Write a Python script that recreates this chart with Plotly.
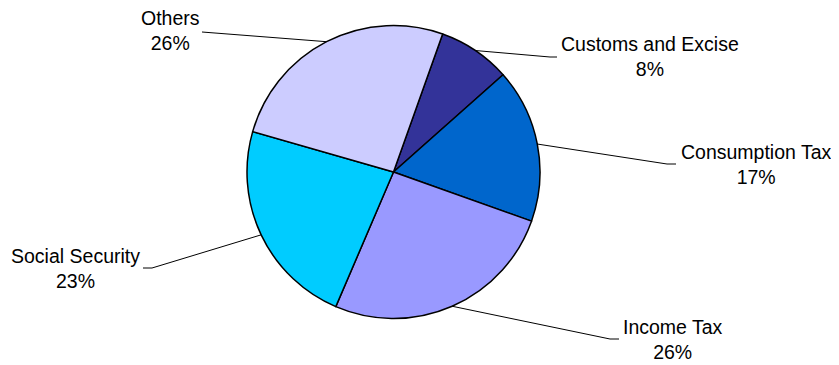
import math
import plotly.graph_objects as go

# ---- data ----
categories = ["Customs and Excise", "Consumption Tax", "Income Tax", "Social Security", "Others"]
values = [8, 17, 26, 23, 26]
colors = ["#333399", "#0066CC", "#9999FF", "#00CCFF", "#CCCCFF"]

# ---- layout constants (page pixels) ----
PAGE_W, PAGE_H = 839, 365
BODY_MARGIN = 8  # browser default body margin offsets the figure
W, H = PAGE_W - BODY_MARGIN, PAGE_H - BODY_MARGIN
CX, CY, R = 393.5, 172.0, 146.5
ROTATION = 19.6  # degrees clockwise from 12 o'clock where first slice starts

# label block centres and leader-line elbow/end points (page pixels)
label_pos = {
    "Customs and Excise": (650, 57),
    "Consumption Tax": (756, 164),
    "Income Tax": (673, 339),
    "Social Security": (75, 268),
    "Others": (170, 31),
}
leader_pts = {
    "Customs and Excise": [(550, 57), (557, 57)],
    "Consumption Tax": [(667, 164), (676, 164)],
    "Income Tax": [(610, 339), (619, 339)],
    "Social Security": [(152, 268), (143, 268)],
    "Others": [(202, 32)],
}


def px(x):
    return (x - BODY_MARGIN) / W


def py(y):
    return 1 - (y - BODY_MARGIN) / H


fig = go.Figure(
    go.Pie(
        labels=categories,
        values=values,
        sort=False,
        direction="clockwise",
        rotation=ROTATION,
        marker=dict(colors=colors, line=dict(color="black", width=1.5)),
        textinfo="none",
        hoverinfo="label+percent",
        domain=dict(x=[px(CX - R), px(CX + R)], y=[py(CY + R), py(CY - R)]),
    )
)

total = sum(values)
cum = 0
shapes = []
annotations = []
for cat, v in zip(categories, values):
    mid = ROTATION + (cum + v / 2) / total * 360
    cum += v
    a = math.radians(mid)
    ax, ay = CX + R * math.sin(a), CY - R * math.cos(a)
    pts = [(ax, ay)] + leader_pts[cat]
    for (x0, y0), (x1, y1) in zip(pts[:-1], pts[1:]):
        shapes.append(dict(type="line", xref="paper", yref="paper",
                           x0=px(x0), y0=py(y0), x1=px(x1), y1=py(y1),
                           line=dict(color="black", width=1)))
    lx, ly = label_pos[cat]
    pct = round(v / total * 100)
    annotations.append(dict(text=f"{cat}<br>{pct}%", x=px(lx), y=py(ly),
                            xref="paper", yref="paper", showarrow=False,
                            xanchor="center", yanchor="middle", align="center",
                            font=dict(family="Liberation Sans, Arial", size=19.5, color="black")))

fig.update_layout(
    width=W, height=H,
    margin=dict(l=0, r=0, t=0, b=0),
    paper_bgcolor="white", plot_bgcolor="white",
    showlegend=False,
    shapes=shapes,
    annotations=annotations,
)

fig.write_html("out.html")
